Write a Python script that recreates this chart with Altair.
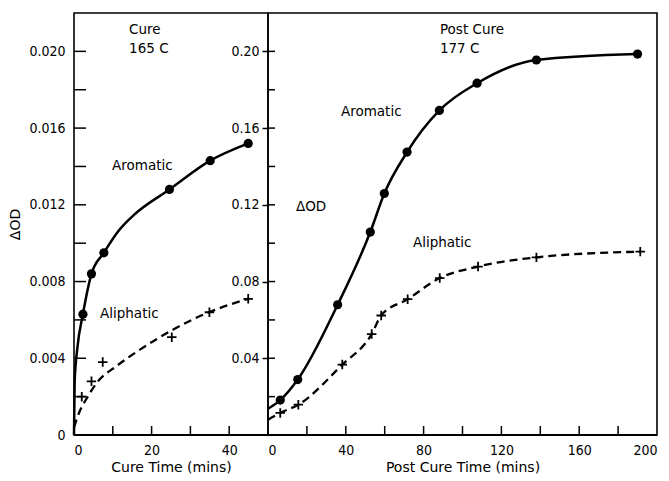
import altair as alt
import pandas as pd

FONT = "DejaVu Sans Condensed"
NOTE_FONT = "DejaVu Sans"

# ---------------- Cure panel (165 C) ----------------
cure_arom_t = [2.3, 4.5, 7.7, 24.6, 35.1, 44.9]
cure_arom_od = [0.0063, 0.0084, 0.0095, 0.0128, 0.0143, 0.0152]
cure_aliph_t = [2.0, 4.5, 7.4, 25.2, 34.9, 44.9]
cure_aliph_od = [0.0020, 0.0028, 0.0038, 0.0051, 0.0064, 0.0071]
# drawn (fitted) curves
cure_arom_fit_t = [0, 0.17, 0.85, 2.3, 4.5, 7.7, 11.3, 15.6, 24.6, 35.1, 44.9]
cure_arom_fit_od = [0, 0.0028, 0.0045, 0.0063, 0.0084, 0.0095, 0.0106, 0.0115, 0.0128, 0.0143, 0.0152]
cure_aliph_fit_t = [0, 1.5, 3.1, 5.8, 11, 17, 25.6, 34.2, 44.9]
cure_aliph_fit_od = [0.0004, 0.00125, 0.00185, 0.0027, 0.0036, 0.00445, 0.0055, 0.00635, 0.0071]

# ---------------- Post cure panel (177 C) ----------------
post_arom_t = [6.3, 15.3, 35.8, 52.6, 59.8, 71.5, 88.1, 107.5, 138, 190]
post_arom_od = [0.0182, 0.0289, 0.0679, 0.1058, 0.1259, 0.1475, 0.1692, 0.1834, 0.1955, 0.1986]
post_aliph_t = [6.3, 15.6, 38.2, 53.3, 58.2, 71.8, 88.3, 108, 138, 191.4]
post_aliph_od = [0.0115, 0.0158, 0.0367, 0.0526, 0.0623, 0.0708, 0.0818, 0.0878, 0.0926, 0.0956]
post_arom_fit_t = [0] + post_arom_t
post_arom_fit_od = [0.0137] + post_arom_od
post_aliph_fit_t = [0] + post_aliph_t
post_aliph_fit_od = [0.0080] + post_aliph_od

# axis tick values
cure_x_labels = [0, 20, 40]
cure_x_ticks = [10, 20, 30, 40]
cure_y_labels = [0, 0.004, 0.008, 0.012, 0.016, 0.020]
cure_y_ticks = [0.002, 0.004, 0.006, 0.008, 0.010, 0.012, 0.014, 0.016, 0.018, 0.020]
post_x_labels = [0, 40, 80, 120, 160, 200]
post_x_ticks = [20, 40, 60, 80, 100, 120, 140, 160, 180]
post_y_labels = [0.04, 0.08, 0.12, 0.16, 0.20]
post_y_ticks = [0.02, 0.04, 0.06, 0.08, 0.10, 0.12, 0.14, 0.16, 0.18, 0.20]

cure_notes = [
    {"t": 14.2, "od": 0.0211, "txt": "Cure"},
    {"t": 14.2, "od": 0.0201, "txt": "165  C"},
    {"t": 9.8, "od": 0.0140, "txt": "Aromatic"},
    {"t": 6.7, "od": 0.0063, "txt": "Aliphatic"},
]
post_notes = [
    {"t": 88.4, "od": 0.211, "txt": "Post  Cure"},
    {"t": 88.4, "od": 0.201, "txt": "177  C"},
    {"t": 37.5, "od": 0.1683, "txt": "Aromatic"},
    {"t": 14.4, "od": 0.1190, "txt": "\u0394OD"},
    {"t": 74.5, "od": 0.1003, "txt": "Aliphatic"},
]

W1, W2, H = 194, 389, 422
PLUS = "M-1,0L1,0M0,-1L0,1"


def panel(width, xdom, ydom, xlab, xtitle, ylab, yfmt, ylabel_title, y_axis_ticks,
          ar_t, ar_od, al_t, al_od, arf_t, arf_od, alf_t, alf_od,
          xt, yt, ytick_len, notes):
    xs = alt.Scale(domain=xdom, nice=False, zero=False)
    ys = alt.Scale(domain=ydom, nice=False, zero=False)
    xaxis = alt.Axis(values=xlab, title=xtitle, ticks=False, domain=False, grid=False,
                     labelPadding=8, titlePadding=3, format="d")
    yaxis_kw = dict(values=ylab, title=ylabel_title, domain=False, grid=False,
                    labelExpr=yfmt)
    if y_axis_ticks:
        yaxis = alt.Axis(ticks=True, tickSize=6, tickWidth=1.5, tickColor="black",
                         labelPadding=3, **yaxis_kw)
    else:
        yaxis = alt.Axis(ticks=False, labelPadding=9, titlePadding=6, **yaxis_kw)

    X = lambda: alt.X("t:Q", scale=xs, axis=xaxis)
    Y = lambda: alt.Y("od:Q", scale=ys, axis=yaxis)

    arf = pd.DataFrame({"t": arf_t, "od": arf_od})
    alf = pd.DataFrame({"t": alf_t, "od": alf_od})
    ar = pd.DataFrame({"t": ar_t, "od": ar_od})
    al = pd.DataFrame({"t": al_t, "od": al_od})

    solid = alt.Chart(arf).mark_line(color="black", strokeWidth=2.5,
                                     interpolate="monotone").encode(x=X(), y=Y())
    dashed = alt.Chart(alf).mark_line(color="black", strokeWidth=2.3, strokeDash=[8, 5],
                                      interpolate="monotone").encode(x=X(), y=Y())
    dots = alt.Chart(ar).mark_point(shape="circle", filled=True, color="black",
                                    size=85, opacity=1).encode(x=X(), y=Y())
    plus = alt.Chart(al).mark_point(shape=PLUS, filled=False, color="black",
                                    strokeWidth=1.8, size=90, opacity=1).encode(x=X(), y=Y())
    xtk = alt.Chart(pd.DataFrame({"t": xt})).mark_rule(color="black", strokeWidth=1.5).encode(
        x=X(), y=alt.value(H), y2=alt.value(H - 9))
    ytk = alt.Chart(pd.DataFrame({"od": yt})).mark_rule(color="black", strokeWidth=1.5).encode(
        y=Y(), x=alt.value(0), x2=alt.value(ytick_len))
    txt = alt.Chart(pd.DataFrame(notes)).mark_text(
        align="left", baseline="middle", font=NOTE_FONT, fontSize=13.5, color="black"
    ).encode(x=X(), y=Y(), text="txt:N")
    bottom = alt.Chart(pd.DataFrame({"t": [xdom[0]], "t2": [xdom[1]]})).mark_rule(
        color="black", strokeWidth=2.2).encode(x=X(), x2="t2:Q", y=alt.value(H))
    return alt.layer(ytk, xtk, bottom, solid, dashed, dots, plus, txt).properties(
        width=width, height=H)


left = panel(W1, [0, 50], [0, 0.022], cure_x_labels, "Cure Time (mins)",
             cure_y_labels, "datum.value == 0 ? '0' : format(datum.value, '.3f')",
             "\u0394OD", False,
             cure_arom_t, cure_arom_od, cure_aliph_t, cure_aliph_od,
             cure_arom_fit_t, cure_arom_fit_od, cure_aliph_fit_t, cure_aliph_fit_od,
             cure_x_ticks, cure_y_ticks, 12, cure_notes)

right = panel(W2, [0, 200], [0, 0.22], post_x_labels, "Post Cure Time (mins)",
              post_y_labels, "format(datum.value, '.2f')", None, True,
              post_arom_t, post_arom_od, post_aliph_t, post_aliph_od,
              post_arom_fit_t, post_arom_fit_od, post_aliph_fit_t, post_aliph_fit_od,
              post_x_ticks, post_y_ticks, 7, post_notes)

chart = alt.hconcat(left, right, spacing=0, bounds="flush").properties(
    padding={"left": 0, "top": 4, "right": 0, "bottom": 0}
).configure_view(
    stroke="black", strokeWidth=1.6
).configure_axis(
    labelFont=FONT, titleFont=NOTE_FONT, labelFontSize=14, titleFontSize=14,
    labelColor="black", titleColor="black", titleFontWeight="normal"
).configure_axisY(
    labelAlign="right", labelBaseline="middle"
)

chart.save("out.html", embed_options={"renderer": "svg", "actions": False})
